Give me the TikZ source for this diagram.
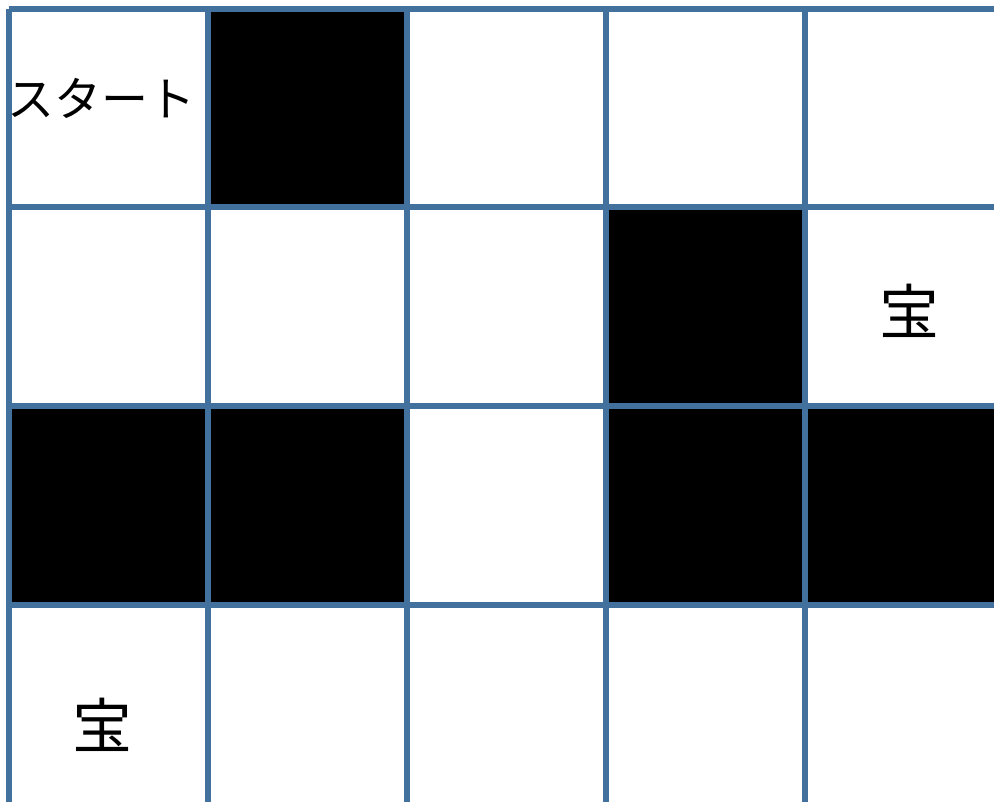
\documentclass[tikz,border=0pt]{standalone}
\usepackage{fontspec}
\newfontfamily\jpfont{Noto Sans CJK JP}
\definecolor{gridblue}{HTML}{41719C}
\begin{document}
\begin{tikzpicture}[x=1pt,y=-1pt,
  cell/.style={fill=black,draw=none},
  gridline/.style={draw=gridblue,line width=6pt},
  lbl/.style={inner sep=0pt,font=\jpfont}]
\useasboundingbox (0,0) rectangle (994,802);
\clip (0,0) rectangle (994,802);
\fill[white] (0,0) rectangle (994,802);
% black cells
\fill[cell] (207.5,9) rectangle (406.5,207);
\fill[cell] (605.5,207) rectangle (804.5,406);
\fill[cell] (8.5,406) rectangle (207.5,605);
\fill[cell] (207.5,406) rectangle (406.5,605);
\fill[cell] (605.5,406) rectangle (804.5,605);
\fill[cell] (804.5,406) rectangle (1003.5,605);
% grid lines
\foreach \x in {8.5,207.5,406.5,605.5,804.5}
  \draw[gridline] (\x,9) -- (\x,820);
\foreach \y in {9,207,406,605}
  \draw[gridline] (8.5,\y) -- (1010,\y);
% labels
\node[lbl,font=\jpfont\fontsize{47}{56}\selectfont] (start) at (102,98) {スタート};
\node[lbl,font=\jpfont\fontsize{60}{72}\selectfont] (t1) at (909.5,311) {宝};
\node[lbl,font=\jpfont\fontsize{60}{72}\selectfont] (t2) at (102,725) {宝};
\end{tikzpicture}
\end{document}
